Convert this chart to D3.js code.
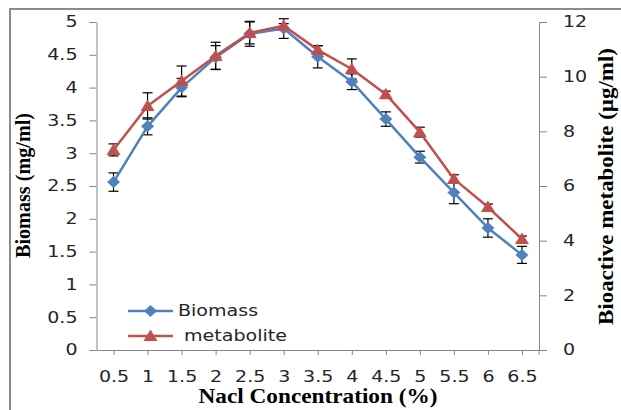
<!DOCTYPE html>
<html>
<head>
<meta charset="utf-8">
<script src="https://cdn.jsdelivr.net/npm/d3@7"></script>
<style>
  body { margin: 0; background: #fff; }
  svg { display: block; }
</style>
</head>
<body>
<div id="chart"></div>
<script>
const categories = ["0.5", "1", "1.5", "2", "2.5", "3", "3.5", "4", "4.5", "5", "5.5", "6", "6.5"];
const biomass = [2.56, 3.41, 4.0, 4.46, 4.82, 4.9, 4.47, 4.09, 3.52, 2.94, 2.40, 1.86, 1.45];
const biomassErr = [0.14, 0.13, 0.14, 0.18, 0.19, 0.15, 0.17, 0.12, 0.11, 0.09, 0.17, 0.14, 0.13];
const metabolite = [7.32, 8.93, 9.84, 10.76, 11.6, 11.86, 10.98, 10.28, 9.36, 7.97, 6.26, 5.23, 4.06];
const metaboliteErr = [0.22, 0.48, 0.55, 0.5, 0.4, 0.08, 0.15, 0.37, 0.11, 0.18, 0.15, 0.11, 0.11];
const leftTicks = [0, 0.5, 1, 1.5, 2, 2.5, 3, 3.5, 4, 4.5, 5];
const rightTicks = [0, 2, 4, 6, 8, 10, 12];

const width = 621, height = 410;
const marginLeft = 96.5, marginRight = 82, marginTop = 22, marginBottom = 60;
const blue = "#4F81BD", red = "#C0504D";
const stretchX = 1.27;

const svg = d3.select("#chart").append("svg")
    .attr("width", width)
    .attr("height", height);

// chart area border
svg.append("rect")
    .attr("x", 10).attr("y", 9)
    .attr("width", 800).attr("height", 600)
    .attr("fill", "none")
    .attr("stroke", "#8c8c8c")
    .attr("stroke-width", 2);

const x = d3.scalePoint()
    .domain(categories)
    .range([marginLeft, width - marginRight])
    .padding(0.5);
const yL = d3.scaleLinear().domain([0, 5]).range([height - marginBottom, marginTop]);
const yR = d3.scaleLinear().domain([0, 12]).range([height - marginBottom, marginTop]);

// widen text horizontally like the reference
function stretch(sel, k) {
    sel.each(function () {
        const w = this.getComputedTextLength();
        d3.select(this).attr("textLength", w * k).attr("lengthAdjust", "spacingAndGlyphs");
    });
}

function styleAxis(g) {
    g.select(".domain").attr("stroke", "#868686");
    g.selectAll(".tick line").attr("stroke", "#868686");
    g.selectAll(".tick text")
        .attr("fill", "#262626")
        .style("font-family", "'DejaVu Sans', Verdana, sans-serif")
        .style("font-size", "15px");
}

const gx = svg.append("g")
    .attr("transform", `translate(0,${height - marginBottom})`)
    .call(d3.axisBottom(x).tickSize(5).tickPadding(16).tickSizeOuter(0))
    .call(styleAxis);
gx.append("line")
    .attr("x1", width - marginRight).attr("x2", width - marginRight)
    .attr("y1", 0).attr("y2", 5)
    .attr("stroke", "#868686");

svg.append("g")
    .attr("transform", `translate(${marginLeft},0)`)
    .call(d3.axisLeft(yL).tickValues(leftTicks).tickFormat(d3.format("")).tickSize(7).tickPadding(12).tickSizeOuter(0))
    .call(styleAxis);

svg.append("g")
    .attr("transform", `translate(${width - marginRight},0)`)
    .call(d3.axisRight(yR).tickValues(rightTicks).tickSize(8).tickPadding(16).tickSizeOuter(0))
    .call(styleAxis);

svg.selectAll(".tick text").call(stretch, stretchX);

// error bars
function errorBars(values, errs, y) {
    const g = svg.append("g").attr("stroke", "#000").attr("stroke-width", 1.2);
    values.forEach((v, i) => {
        const cx = x(categories[i]);
        const top = y(v + errs[i]), bot = y(v - errs[i]);
        g.append("line").attr("x1", cx).attr("x2", cx).attr("y1", top).attr("y2", bot);
        g.append("line").attr("x1", cx - 5).attr("x2", cx + 5).attr("y1", top).attr("y2", top);
        g.append("line").attr("x1", cx - 5).attr("x2", cx + 5).attr("y1", bot).attr("y2", bot);
    });
}
errorBars(biomass, biomassErr, yL);
errorBars(metabolite, metaboliteErr, yR);

const diamond = "M0,-6L6.5,0L0,6L-6.5,0Z";
const triangle = "M0,-6.5L7,5L-7,5Z";

function series(values, y, color, shape) {
    const line = d3.line().x((d, i) => x(categories[i])).y(d => y(d));
    svg.append("path")
        .datum(values)
        .attr("fill", "none")
        .attr("stroke", color)
        .attr("stroke-width", 2.5)
        .attr("stroke-linejoin", "round")
        .attr("d", line);
    svg.append("g")
        .selectAll("path")
        .data(values)
        .join("path")
        .attr("transform", (d, i) => `translate(${x(categories[i])},${y(d)})`)
        .attr("d", shape)
        .attr("fill", color);
}
series(biomass, yL, blue, diamond);
series(metabolite, yR, red, triangle);

// legend
const legend = svg.append("g");
[["Biomass", blue, diamond, 311], [" metabolite", red, triangle, 336]].forEach(([name, color, shape, ly]) => {
    legend.append("line")
        .attr("x1", 128).attr("x2", 173)
        .attr("y1", ly).attr("y2", ly)
        .attr("stroke", color).attr("stroke-width", 2.5);
    legend.append("path")
        .attr("transform", `translate(150.5,${ly})`)
        .attr("d", shape)
        .attr("fill", color);
    legend.append("text")
        .attr("x", 178).attr("y", ly)
        .attr("dy", "0.36em")
        .attr("fill", "#262626")
        .style("font-family", "'DejaVu Sans', Verdana, sans-serif")
        .style("font-size", "15px")
        .style("white-space", "pre")
        .attr("xml:space", "preserve")
        .text(name);
});
legend.selectAll("text").call(stretch, stretchX);

// axis titles
const titleFont = "'Liberation Serif', 'Times New Roman', serif";
svg.append("text")
    .attr("x", 318).attr("y", 403)
    .attr("text-anchor", "middle")
    .style("font-family", titleFont)
    .style("font-weight", "bold")
    .style("font-size", "21px")
    .attr("textLength", 239).attr("lengthAdjust", "spacingAndGlyphs")
    .text("Nacl Concentration (%)");

svg.append("text")
    .attr("transform", "translate(30,185.5) rotate(-90)")
    .attr("text-anchor", "middle")
    .style("font-family", titleFont)
    .style("font-weight", "bold")
    .style("font-size", "20px")
    .attr("textLength", 145).attr("lengthAdjust", "spacingAndGlyphs")
    .text("Biomass (mg/ml)");

svg.append("text")
    .attr("transform", "translate(613,186.5) rotate(-90)")
    .attr("text-anchor", "middle")
    .style("font-family", titleFont)
    .style("font-weight", "bold")
    .style("font-size", "20px")
    .attr("textLength", 277).attr("lengthAdjust", "spacingAndGlyphs")
    .text("Bioactive metabolite (µg/ml)");
</script>
</body>
</html>
